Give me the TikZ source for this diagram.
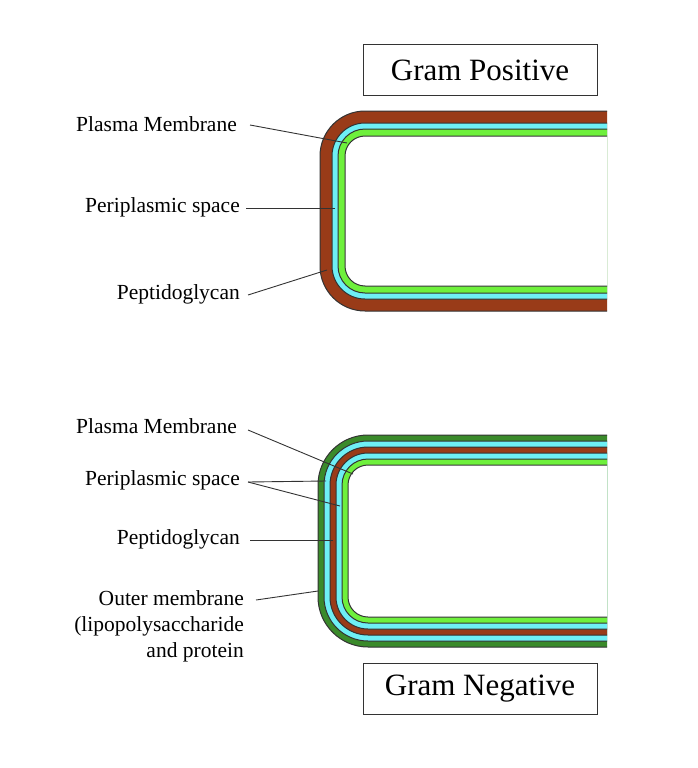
\documentclass[tikz,border=0pt]{standalone}
\usepackage{fontspec}
\setmainfont{Liberation Serif}
\definecolor{brn}{HTML}{993B18}
\definecolor{cya}{HTML}{6EEFF5}
\definecolor{grn}{HTML}{6EF03C}
\definecolor{dgr}{HTML}{3A8A2A}
\definecolor{edge}{HTML}{333333}
\begin{document}
\begin{tikzpicture}[x=1pt,y=-1pt,
  lbl/.style={font=\fontsize{21.5}{26}\selectfont,anchor=east,inner sep=0pt},
  ttl/.style={draw=edge,line width=0.8pt,minimum width=234pt,minimum height=51pt,font=\fontsize{31}{36}\selectfont},
  ptr/.style={draw=edge,line width=0.9pt},
  lay/.style={draw=edge,line width=1pt}]
\useasboundingbox (0,0) rectangle (698,768);
% Gram positive
\begin{scope}
\clip (0,0) rectangle (607,768);
\foreach \i/\c in {0/brn,12/cya,18/grn,25/white}{
  \pgfmathsetmacro\r{45-\i}
  \filldraw[lay,fill=\c,rounded corners=\r pt] (320+\i,111+\i) rectangle (700,311-\i);
}
\end{scope}
% Gram negative
\begin{scope}
\clip (0,0) rectangle (607,768);
\foreach \i/\c in {0/dgr,6/cya,12/brn,18/cya,24/grn,30/white}{
  \pgfmathsetmacro\r{50-\i}
  \filldraw[lay,fill=\c,rounded corners=\r pt] (318+\i,435+\i) rectangle (700,647-\i);
}
\end{scope}
\node[ttl] (gp) at (480,70) {Gram Positive};
\node[ttl] (gn) at (480,689) {Gram Negative};
% positive labels
\node[lbl] (p1) at (237,124) {Plasma Membrane};
\node[lbl] (p2) at (240,207) {Periplasmic space};
\node[lbl] (p3) at (240,294) {Peptidoglycan};
\coordinate (q1) at (347,143);
\coordinate (q2) at (335,208);
\coordinate (q3) at (327,270);
\draw[ptr] (250,125) -- (q1);
\draw[ptr] (246,208) -- (q2);
\draw[ptr] (248,295) -- (q3);
% negative labels
\node[lbl] (n1) at (237,426) {Plasma Membrane};
\node[lbl] (n2) at (240,480) {Periplasmic space};
\node[lbl] (n3) at (240,539) {Peptidoglycan};
\node[lbl,align=right,anchor=north east] (n4) at (244,590) {Outer membrane\\(lipopolysaccharide\\and protein};
\coordinate (m1) at (353,474);
\coordinate (m2a) at (326,481);
\coordinate (m2b) at (340,506);
\coordinate (m3) at (333,540);
\coordinate (m4) at (318,591);
\draw[ptr] (248,430) -- (m1);
\draw[ptr] (248,482) -- (m2a);
\draw[ptr] (248,482) -- (m2b);
\draw[ptr] (250,540) -- (m3);
\draw[ptr] (256,600) -- (m4);
\end{tikzpicture}
\end{document}
